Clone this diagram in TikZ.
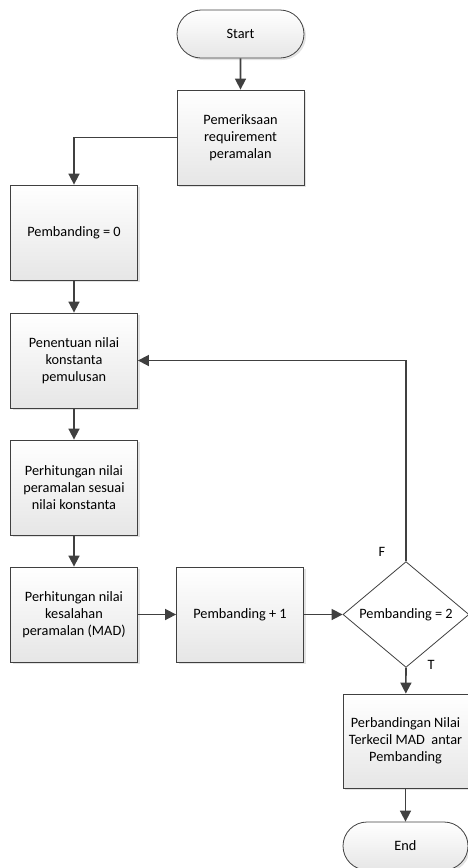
\documentclass[tikz,border=0pt]{standalone}
\usepackage{fontspec}
\setmainfont{Carlito}
\usetikzlibrary{arrows.meta,shapes.geometric,shapes.misc,shadows}
\definecolor{linegray}{HTML}{404040}
\definecolor{fillbot}{HTML}{E6E6E6}
\tikzset{
  txt/.style={font=\fontsize{14.3}{17}\selectfont},
  proc/.style={rectangle, draw=linegray, line width=0.8pt,
    top color=white, bottom color=fillbot,
    drop shadow={shadow xshift=2pt, shadow yshift=-2pt, fill=black!18, opacity=0.6},
    minimum width=127pt, minimum height=95pt, inner sep=0pt,
    align=center, txt},
  term/.style={rounded rectangle, draw=linegray, line width=0.8pt,
    top color=white, bottom color=fillbot,
    drop shadow={shadow xshift=2pt, shadow yshift=-2pt, fill=black!18, opacity=0.6},
    minimum width=127pt, minimum height=48pt, inner sep=0pt, txt},
  decision/.style={diamond, draw=linegray, line width=0.8pt, fill=white,
    minimum width=126pt, minimum height=96pt, inner sep=0pt, txt},
  flow/.style={draw=linegray, line width=1.6pt,
    -{Triangle[length=11pt,width=11pt]}},
  lbl/.style={txt, inner sep=0pt}
}
\begin{document}
\begin{tikzpicture}[x=1pt,y=-1pt]
  \useasboundingbox (0,0) rectangle (468,868);
  % process steps
  \node[term] (start) at (240.5,34) {Start};
  \node[proc] (cek) at (240.5,137.5) {Pemeriksaan\\requirement\\peramalan};
  \node[proc] (init) at (74,232.5) {Pembanding = 0};
  \node[proc] (konst) at (74,360.5) {Penentuan nilai\\konstanta\\pemulusan};
  \node[proc] (ramal) at (74,487.5) {Perhitungan nilai\\peramalan sesuai\\nilai konstanta};
  \node[proc] (mad) at (74,614.5) {Perhitungan nilai\\kesalahan\\peramalan (MAD)};
  \node[proc] (inc) at (240,614.5) {Pembanding + 1};
  \node[decision] (cek2) at (406,614.5) {Pembanding = 2};
  \node[proc, minimum width=125pt, minimum height=94pt] (banding) at (405.5,741)
    {Perbandingan Nilai\\Terkecil MAD\ \ antar\\Pembanding};
  \node[term, minimum width=125pt] (end) at (405.5,846) {End};
  % branch labels
  \node[lbl] (lf) at (382,552) {F};
  \node[lbl] (lt) at (431,665) {T};
  % connectors
  \draw[flow] (start) -- (cek);
  \draw[flow] (cek.west) -| (init.north);
  \draw[flow] (init) -- (konst);
  \draw[flow] (konst) -- (ramal);
  \draw[flow] (ramal) -- (mad);
  \draw[flow] (mad) -- (inc);
  \draw[flow] (inc) -- (cek2);
  \draw[flow] (cek2.north) |- (konst.east);
  \draw[flow] (cek2.south) -- (banding);
  \draw[flow] (banding) -- (end);
\end{tikzpicture}
\end{document}
